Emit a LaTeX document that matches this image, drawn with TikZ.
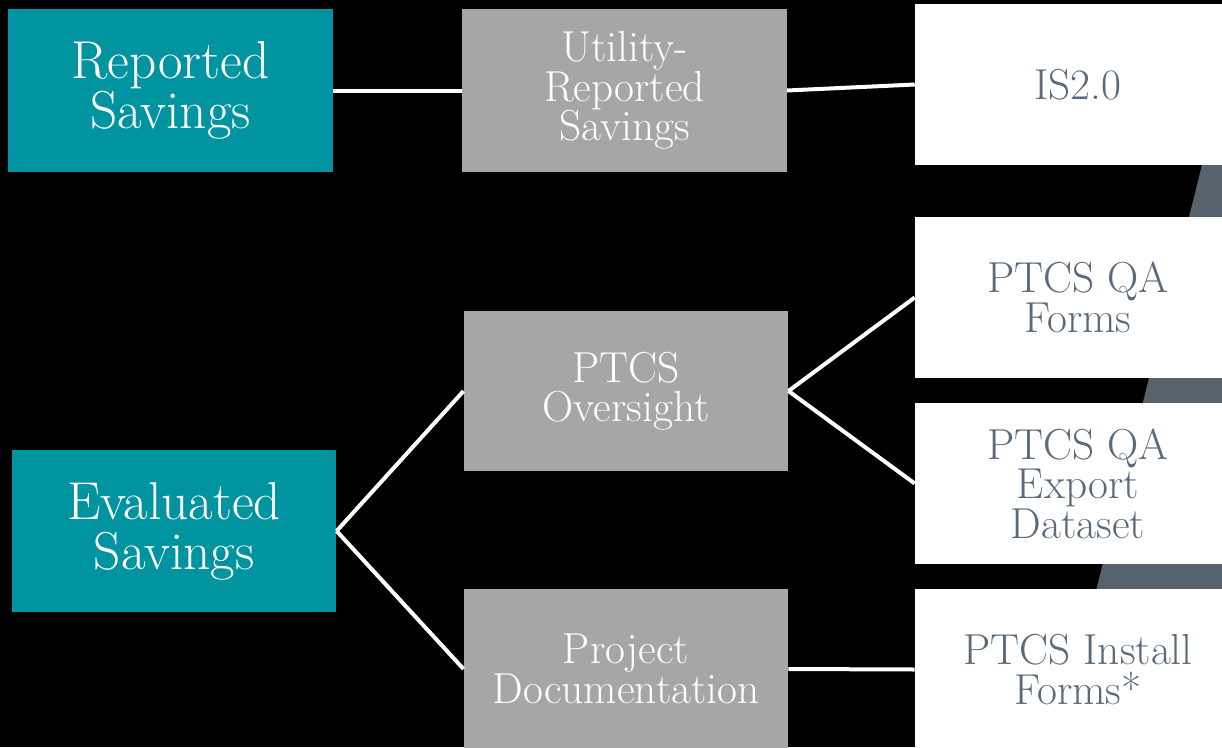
\documentclass[tikz,border=0pt]{standalone}
\usepackage{fontspec}
\definecolor{tealbox}{HTML}{0093A0}
\definecolor{greybox}{HTML}{A6A6A6}
\definecolor{slate}{HTML}{56636E}
\definecolor{slatetext}{HTML}{5B6A7A}
\tikzset{
  base/.style={inner sep=0pt, align=center, anchor=center},
  leftbox/.style={base, fill=tealbox, text=white, minimum width=243.5pt, minimum height=121.8pt,
    font=\fontsize{40}{37.5}\selectfont},
  midbox/.style={base, fill=greybox, text=white, minimum width=243.3pt, minimum height=120.5pt,
    font=\fontsize{32.5}{29.6}\selectfont},
  rightbox/.style={base, fill=white, text=slatetext, minimum width=244.5pt, minimum height=120.8pt,
    font=\fontsize{32.5}{29.6}\selectfont},
  link/.style={draw=white, line width=3pt}
}
\begin{document}
\begin{tikzpicture}[x=0.75pt, y=-0.75pt]
  % canvas
  \fill[black] (0,0) rectangle (1222,747);
  \useasboundingbox (0,0) rectangle (1222,747);
  % slanted band behind the right column
  \fill[slate] (1243,0) -- (1260,0) -- (1260,760) -- (1054,760) -- cycle;

  % left column
  \node[leftbox] (rep) at (170.5,90.5) {Reported\\Savings};
  \node[leftbox] (eval) at (174,531) {Evaluated\\Savings};

  % middle column
  \node[midbox, minimum height=122.3pt] (util) at (624.5,90.5) {Utility-\\Reported\\Savings};
  \node[midbox] (over) at (626,391) {PTCS\\Oversight};
  \node[midbox] (proj) at (626,669) {Project\\Documentation};

  % right column
  \node[rightbox] (is) at (1078,84.5) {IS2.0};
  \node[rightbox] (qaf) at (1078,297.5) {PTCS QA\\Forms};
  \node[rightbox] (qae) at (1078,483.5) {PTCS QA\\Export\\Dataset};
  \node[rightbox] (inst) at (1078,669.5) {PTCS Install\\Forms*};

  % connectors
  \draw[link] (rep.east) -- (util.west);
  \draw[link] (util.east) -- (is.west);
  \draw[link] (eval.east) -- (over.west);
  \draw[link] (eval.east) -- (proj.west);
  \draw[link] (over.east) -- (qaf.west);
  \draw[link] (over.east) -- (qae.west);
  \draw[link] (proj.east) -- (inst.west);
\end{tikzpicture}
\end{document}
